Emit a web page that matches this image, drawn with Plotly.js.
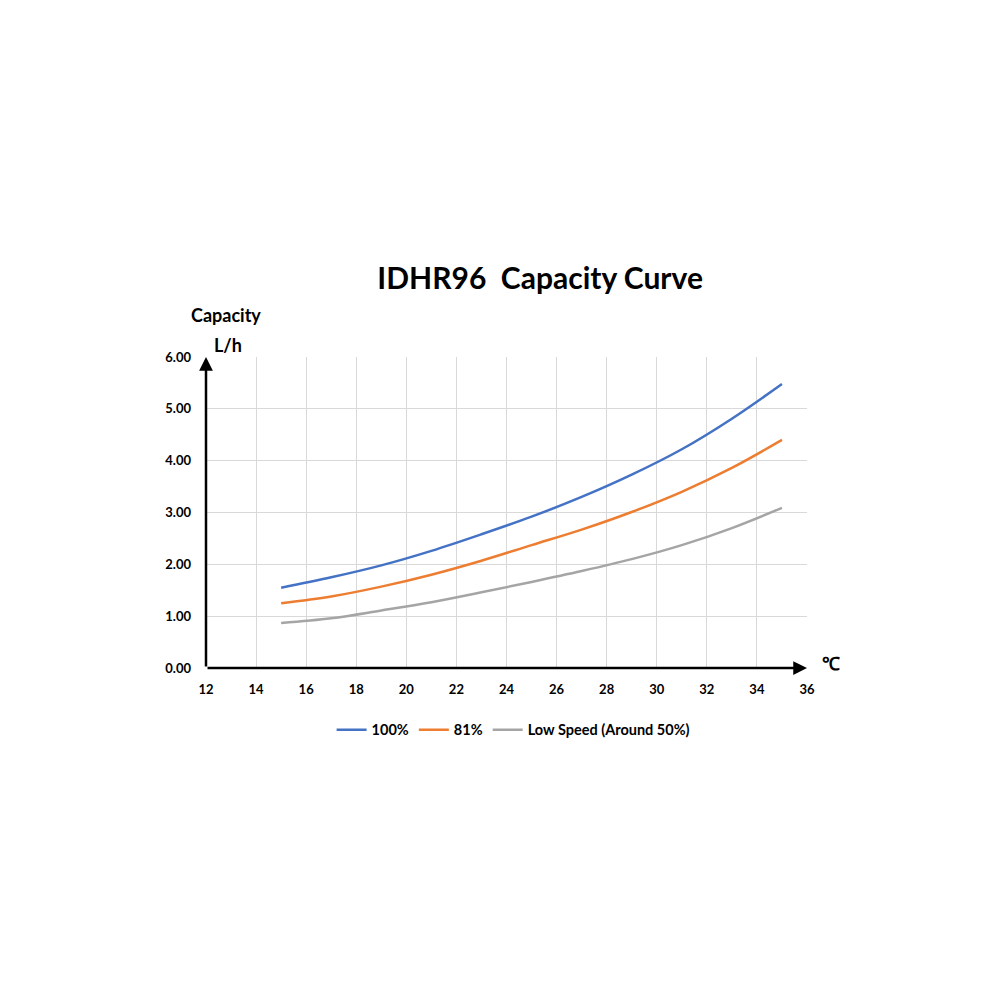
<!DOCTYPE html>
<html>
<head>
<meta charset="utf-8">
<script src="https://cdn.plot.ly/plotly-3.0.1.min.js"></script>
<style>
html,body{margin:0;padding:0;background:#fff;}
#chart{width:1000px;height:1000px;}
</style>
</head>
<body>
<div id="chart"></div>
<script>
// Data
var temperature = [15, 17, 19, 21, 23, 25, 27, 29, 31, 33, 35];
var cap100 = [1.55, 1.75, 1.98, 2.26, 2.58, 2.92, 3.30, 3.73, 4.22, 4.81, 5.48];
var cap81  = [1.25, 1.38, 1.57, 1.80, 2.07, 2.37, 2.67, 3.01, 3.40, 3.86, 4.40];
var capLow = [0.87, 0.96, 1.11, 1.27, 1.46, 1.66, 1.87, 2.10, 2.37, 2.70, 3.09];
var seriesNames = ['100%', '81%', 'Low Speed (Around 50%)'];
var seriesColors = ['#4472C4', '#ED7D31', '#A5A5A5'];
var xTicks = [12, 14, 16, 18, 20, 22, 24, 26, 28, 30, 32, 34, 36];
var yTicks = [0, 1, 2, 3, 4, 5, 6];
var yTickText = ['0.00', '1.00', '2.00', '3.00', '4.00', '5.00', '6.00'];

var FONT = 'Lato, "Open Sans", sans-serif';
var allSeries = [cap100, cap81, capLow];
var traces = allSeries.map(function (vals, i) {
  return {
    x: temperature,
    y: vals,
    name: seriesNames[i],
    type: 'scatter',
    mode: 'lines',
    line: {color: seriesColors[i], width: 2.5, shape: 'spline', smoothing: 1},
    hoverinfo: 'skip'
  };
});

var layout = {
  width: 1000,
  height: 1000,
  paper_bgcolor: '#ffffff',
  plot_bgcolor: '#ffffff',
  margin: {l: 206, r: 193, t: 357, b: 332},
  font: {family: FONT, color: '#000000'},
  title: {
    text: 'IDHR96\u00a0\u00a0Capacity Curve',
    font: {family: FONT, size: 30, color: '#000000', weight: 'bold'},
    x: 0.556, xref: 'paper', xanchor: 'center',
    y: 0.722, yref: 'container', yanchor: 'middle'
  },
  xaxis: {
    range: [12, 36],
    tickvals: xTicks,
    ticktext: xTicks.map(String),
    showgrid: true,
    gridcolor: '#d9d9d9',
    gridwidth: 1,
    zeroline: false,
    showline: false,
    ticks: '',
    ticklabelstandoff: 12,
    tickfont: {family: FONT, size: 13, color: '#000', weight: 'bold'},
    fixedrange: true
  },
  yaxis: {
    range: [0, 6],
    tickvals: yTicks,
    ticktext: yTickText,
    showgrid: true,
    gridcolor: '#d9d9d9',
    gridwidth: 1,
    zeroline: false,
    showline: false,
    ticks: '',
    ticklabelstandoff: 14,
    tickfont: {family: FONT, size: 13, color: '#000', weight: 'bold'},
    fixedrange: true
  },
  showlegend: true,
  legend: {
    orientation: 'h',
    x: 0.511, xanchor: 'center',
    y: -0.199, yanchor: 'middle',
    font: {family: FONT, size: 14.5, color: '#000', weight: 'bold'},
    itemwidth: 30,
    traceorder: 'normal'
  },
  annotations: [
    // x axis arrow
    {x: 36, y: 0, xref: 'x', yref: 'y', ax: 12, ay: 0, axref: 'x', ayref: 'y',
     text: '', showarrow: true, arrowhead: 2, arrowsize: 1.1, arrowwidth: 2.5, arrowcolor: '#000', standoff: 0},
    // y axis arrow
    {x: 12, y: 6, xref: 'x', yref: 'y', ax: 12, ay: 0, axref: 'x', ayref: 'y',
     text: '', showarrow: true, arrowhead: 2, arrowsize: 1.1, arrowwidth: 2.5, arrowcolor: '#000', standoff: 0},
    {x: 226, y: 315, xref: 'paper', yref: 'paper', text: 'Capacity', showarrow: false,
     font: {family: FONT, size: 18, color: '#000', weight: 'bold'}, xanchor: 'center', yanchor: 'middle'},
    {x: 228, y: 345, xref: 'paper', yref: 'paper', text: 'L/h', showarrow: false,
     font: {family: FONT, size: 18, color: '#000', weight: 'bold'}, xanchor: 'center', yanchor: 'middle'},
    {x: 831, y: 663, xref: 'paper', yref: 'paper', text: '\u2103', showarrow: false,
     font: {family: FONT, size: 18, color: '#000', weight: 'bold'}, xanchor: 'center', yanchor: 'middle'}
  ]
};

// convert pixel-placed label annotations to paper coordinates
var plotL = 206, plotR = 807, plotT = 357, plotB = 668;
layout.annotations.forEach(function (a) {
  if (a.xref === 'paper') {
    a.x = (a.x - plotL) / (plotR - plotL);
    a.y = (plotB - a.y) / (plotB - plotT);
  }
});

Plotly.newPlot('chart', traces, layout, {staticPlot: true, displayModeBar: false});
</script>
</body>
</html>
